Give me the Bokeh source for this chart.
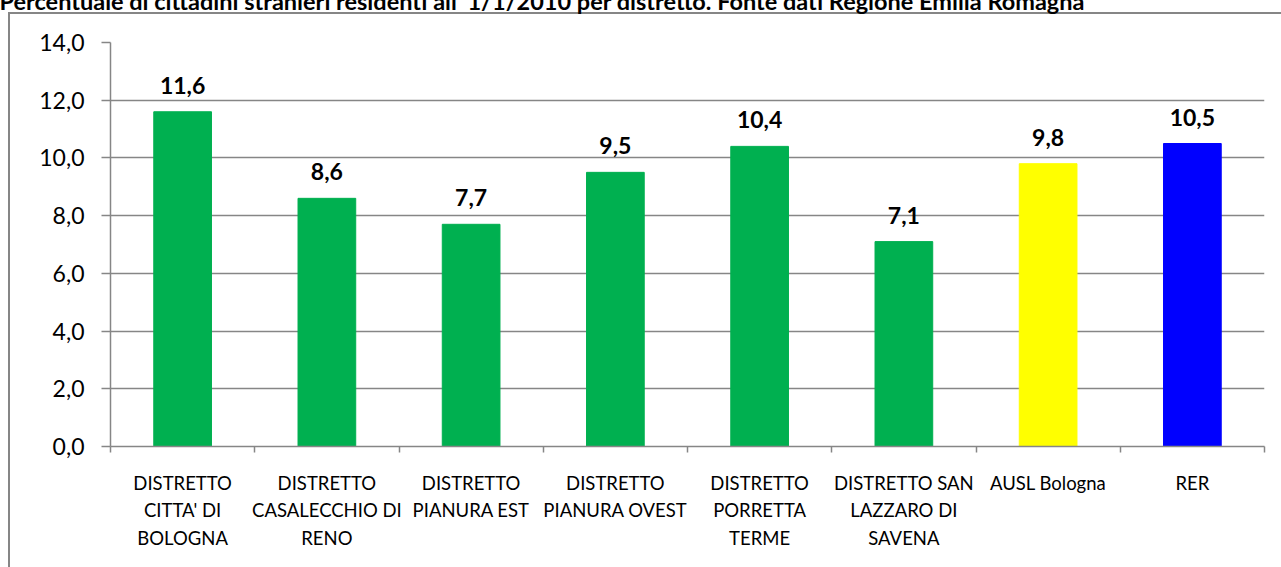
import numpy as np
from bokeh.plotting import figure
from bokeh.models import (ColumnDataSource, FixedTicker, LabelSet, Title, Range1d)
from bokeh.core.properties import value
from bokeh.embed import file_html
from bokeh.resources import INLINE

# ---- data ----
categories = ["DISTRETTO\nCITTA' DI\nBOLOGNA", "DISTRETTO\nCASALECCHIO DI\nRENO",
              "DISTRETTO\nPIANURA EST", "DISTRETTO\nPIANURA OVEST",
              "DISTRETTO\nPORRETTA\nTERME", "DISTRETTO SAN\nLAZZARO DI\nSAVENA",
              "AUSL Bologna", "RER"]
values = [11.6, 8.6, 7.7, 9.5, 10.4, 7.1, 9.8, 10.5]
colors = ["#00B050", "#00B050", "#00B050", "#00B050", "#00B050", "#00B050", "#FFFF00", "#0000FF"]
y_ticks = [0, 2, 4, 6, 8, 10, 12, 14]
title_text = "Percentuale di cittadini stranieri residenti all' 1/1/2010 per distretto. Fonte dati Regione Emilia Romagna"

FONT = "Lato"
GRID = "#868686"
TOP = 92            # canvas border above the frame
SHIFT = TOP - 42    # canvas is pulled up so that the frame top lands at y=42

n = len(categories)
centers = (np.arange(n) + 0.5).tolist()
bounds = list(range(n + 1))
labels = [f"{v:.1f}".replace(".", ",") for v in values]

src = ColumnDataSource(dict(x=centers, top=values, color=colors, label=labels))

p = figure(width=1281, height=567 + SHIFT, output_backend="svg", toolbar_location=None,
           x_range=Range1d(0, n), y_range=Range1d(0, 14),
           min_border_left=110, min_border_right=17, min_border_top=TOP,
           min_border_bottom=121)
p.outline_line_color = None
p.background_fill_color = "white"
p.border_fill_color = None
# outer chart-area border: left and top edges (right/bottom fall outside the picture)
p.styles = {
    "margin-top": f"-{SHIFT}px",
    "background-color": "white",
    "background-image": f"linear-gradient({GRID}, {GRID}), linear-gradient({GRID}, {GRID})",
    "background-size": "2px 100%, 100% 2px",
    "background-position": f"8px {12 + SHIFT}px, 8px {12 + SHIFT}px",
    "background-repeat": "no-repeat",
}

p.vbar(x="x", top="top", width=0.4, color="color", source=src)

# y axis
p.yaxis.ticker = FixedTicker(ticks=y_ticks)
p.yaxis.major_label_overrides = {t: f"{t:.1f}".replace(".", ",") for t in y_ticks}
p.yaxis.major_label_text_font = FONT
p.yaxis.major_label_text_font_size = "23px"
p.yaxis.major_label_text_color = "black"
p.yaxis.major_tick_out = 9
p.yaxis.major_tick_in = 0
p.yaxis.minor_tick_out = 0
p.yaxis.minor_tick_in = 0
p.yaxis.axis_line_color = GRID
p.yaxis.axis_line_width = 1.5
p.yaxis.major_tick_line_color = GRID
p.yaxis.major_tick_line_width = 1.5
p.yaxis.major_label_standoff = 17

# x axis
p.xaxis.ticker = FixedTicker(ticks=centers, minor_ticks=bounds)
p.xaxis.major_label_overrides = {c: lab for c, lab in zip(centers, categories)}
p.xaxis.major_label_text_font = FONT
p.xaxis.major_label_text_font_size = "18.5px"
p.xaxis.major_label_text_color = "black"
p.xaxis.major_label_text_line_height = 1.25
p.xaxis.major_tick_out = 0
p.xaxis.major_tick_in = 0
p.xaxis.minor_tick_out = 6
p.xaxis.minor_tick_in = 0
p.xaxis.minor_tick_line_color = GRID
p.xaxis.minor_tick_line_width = 1.5
p.xaxis.axis_line_color = GRID
p.xaxis.axis_line_width = 1.5
p.xaxis.major_label_standoff = 19

p.xgrid.grid_line_color = None
p.ygrid.ticker = FixedTicker(ticks=y_ticks)
p.ygrid.grid_line_color = GRID
p.ygrid.grid_line_width = 1.5

labelset = LabelSet(x="x", y="top", text="label", source=src, y_offset=18,
                    text_align="center", text_baseline="alphabetic",
                    text_font=value(FONT), text_font_size="23px", text_font_style="bold",
                    text_color="black")
p.add_layout(labelset)

title = Title(text=title_text, align="left", offset=-111, standoff=55,
              text_font=FONT, text_font_size="23.5px", text_font_style="bold",
              text_color="black")
p.add_layout(title, "above")

open("out.html", "w").write(file_html(p, INLINE))
